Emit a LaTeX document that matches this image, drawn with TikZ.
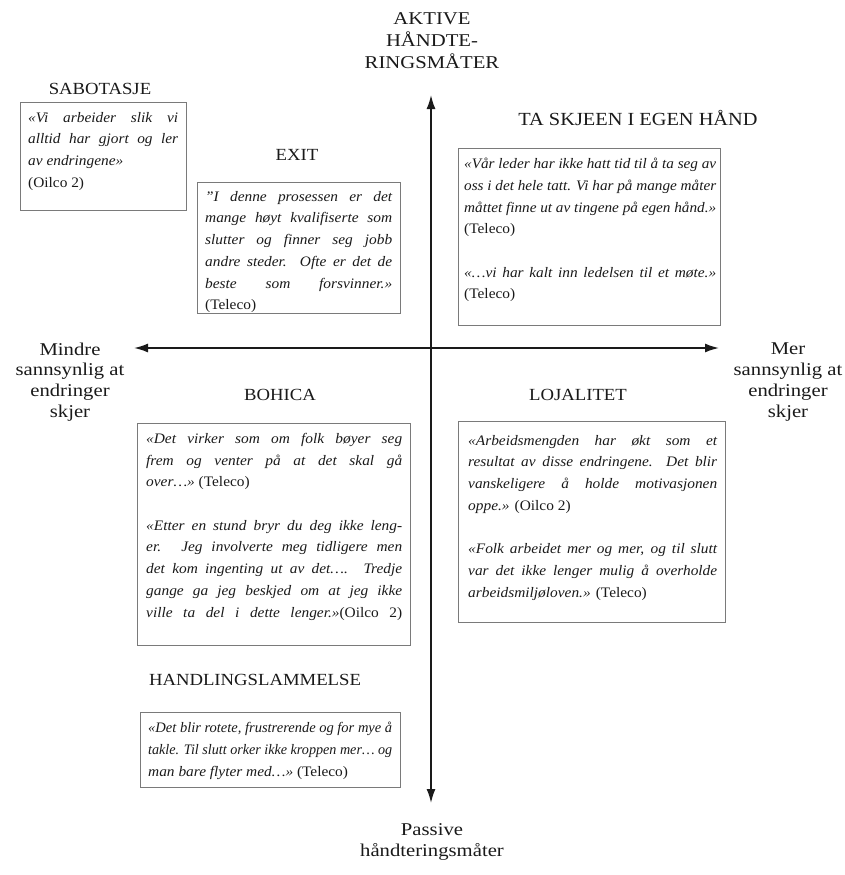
\documentclass[tikz,border=0pt]{standalone}
\usepackage{fontspec}
\usepackage{graphicx}
\setmainfont{Liberation Serif}
\newfontfamily\quotefont[FakeStretch=1.06]{Liberation Serif}
\newfontfamily\headfont[FakeStretch=1.1]{Liberation Serif}
\newfontfamily\axisfont[FakeStretch=1.15]{Liberation Serif}
\usetikzlibrary{arrows.meta}
\definecolor{ink}{HTML}{1A1A1A}
\definecolor{boxgray}{HTML}{7A7A7A}
\newlength{\qw}
% a quotation block: lines stacked at the given width
\newcommand{\qblock}[2]{\vtop{\setlength{\qw}{#1}\hsize=#1\relax #2}}
% one justified line of a quotation (squeezed if it is too long)
\newcommand{\JLine}[1]{\setbox0=\hbox{\spaceskip=0pt\xspaceskip=0pt #1}%
  \ifdim\wd0>\qw\hbox{\resizebox{\qw}{\height}{\box0}}%
  \else\hbox to\qw{\spaceskip=0pt\xspaceskip=0pt #1}\fi}
% last line of a paragraph, set at natural width
\newcommand{\ELine}[1]{\hbox{\spaceskip=0pt\xspaceskip=0pt #1}}
\newcommand{\gap}{\vskip 21.7pt}
\newcommand{\src}[1]{{\upshape #1}}
\begin{document}
\begin{tikzpicture}[x=1pt,y=-1pt,
  qbox/.style={draw=boxgray, line width=1.3pt, anchor=north west, inner sep=0pt},
  qtext/.style={anchor=north west, inner sep=0pt,
    font=\quotefont\fontsize{14.5}{21.7}\selectfont\itshape, text=ink},
  head/.style={font=\headfont\fontsize{17}{20}\selectfont, text=ink},
  axislabel/.style={align=center, font=\axisfont\fontsize{18}{20.7}\selectfont, text=ink},
  axis/.style={draw=ink, line width=1.6pt, -{Latex[length=14pt,width=9pt]}}
]
\useasboundingbox[fill=white] (0,0) rectangle (845,875);

% axes
\coordinate (vtop) at (431,95);
\coordinate (vbot) at (431,803);
\coordinate (hleft) at (134,348);
\coordinate (hright) at (719,348);
\coordinate (centre) at (431,348);
\draw[axis] (centre) -- (vtop);
\draw[axis] (centre) -- (vbot);
\draw[axis] (centre) -- (hleft);
\draw[axis] (centre) -- (hright);

% axis labels
\node[axislabel, font=\axisfont\fontsize{18}{22}\selectfont] (lbtop) at (432,41) {AKTIVE\\HÅNDTE-\\RINGSMÅTER};
\node[axislabel] (lbbot) at (432,842) {Passive\\håndteringsmåter};
\node[axislabel] (lbleft) at (70,382) {Mindre\\sannsynlig at\\endringer\\skjer};
\node[axislabel] (lbright) at (788,382) {Mer\\sannsynlig at\\endringer\\skjer};

% SABOTASJE
\node[head] (hsab) at (100,89) {SABOTASJE};
\node[qbox, minimum width=166pt, minimum height=108pt] (bsab) at (20,102) {};
\node[qtext] (tsab) at ([shift={(8,10)}]bsab.north west)
  {\qblock{150pt}{%
   \JLine{«Vi arbeider slik vi}
   \JLine{alltid har gjort og ler}
   \ELine{av endringene»}
   \ELine{\src{(Oilco 2)}}}};

% EXIT
\node[head] (hexit) at (297,155) {EXIT};
\node[qbox, minimum width=203pt, minimum height=131pt] (bexit) at (197,182) {};
\node[qtext] (texit) at ([shift={(8,9)}]bexit.north west)
  {\qblock{187pt}{%
   \JLine{”I denne prosessen er det}
   \JLine{mange høyt kvalifiserte som}
   \JLine{slutter og finner seg jobb}
   \JLine{andre steder. Ofte er det de}
   \JLine{beste som forsvinner.»}
   \ELine{\src{(Teleco)}}}};

% TA SKJEEN I EGEN HÅND
\node[head, font=\headfont\fontsize{18.5}{20}\selectfont] (hta) at (638,118) {TA SKJEEN I EGEN HÅND};
\node[qbox, minimum width=262pt, minimum height=177pt] (bta) at (458,148) {};
\node[qtext] (tta) at ([shift={(6,10)}]bta.north west)
  {\qblock{252pt}{%
   \JLine{«Vår leder har ikke hatt tid til å ta seg av}
   \JLine{oss i det hele tatt. Vi har på mange måter}
   \JLine{måttet finne ut av tingene på egen hånd.»}
   \ELine{\src{(Teleco)}}\gap
   \JLine{«…vi har kalt inn ledelsen til et møte.»}
   \ELine{\src{(Teleco)}}}};

% BOHICA
\node[head] (hboh) at (280,395) {BOHICA};
\node[qbox, minimum width=273pt, minimum height=222pt] (bboh) at (137,423) {};
\node[qtext] (tboh) at ([shift={(9,10)}]bboh.north west)
  {\qblock{256pt}{%
   \JLine{«Det virker som om folk bøyer seg}
   \JLine{frem og venter på at det skal gå}
   \ELine{over…» \src{(Teleco)}}\gap
   \JLine{«Etter en stund bryr du deg ikke leng-}
   \JLine{er. Jeg involverte meg tidligere men}
   \JLine{det kom ingenting ut av det…. Tredje}
   \JLine{gange ga jeg beskjed om at jeg ikke}
   \JLine{ville ta del i dette lenger.»\src{(Oilco 2)}}}};

% LOJALITET
\node[head] (hloj) at (578,395) {LOJALITET};
\node[qbox, minimum width=267pt, minimum height=201pt] (bloj) at (458,421) {};
\node[qtext] (tloj) at ([shift={(10,14)}]bloj.north west)
  {\qblock{249pt}{%
   \JLine{«Arbeidsmengden har økt som et}
   \JLine{resultat av disse endringene. Det blir}
   \JLine{vanskeligere å holde motivasjonen}
   \ELine{oppe.» \src{(Oilco 2)}}\gap
   \JLine{«Folk arbeidet mer og mer, og til slutt}
   \JLine{var det ikke lenger mulig å overholde}
   \ELine{arbeidsmiljøloven.» \src{(Teleco)}}}};

% HANDLINGSLAMMELSE
\node[head] (hhand) at (255,680) {HANDLINGSLAMMELSE};
\node[qbox, minimum width=260pt, minimum height=75pt] (bhand) at (140,712) {};
\node[qtext] (thand) at ([shift={(8,10)}]bhand.north west)
  {\qblock{244pt}{%
   \JLine{«Det blir rotete, frustrerende og for mye å}
   \JLine{takle. Til slutt orker ikke kroppen mer… og}
   \ELine{man bare flyter med…» \src{(Teleco)}}}};
\end{tikzpicture}
\end{document}
